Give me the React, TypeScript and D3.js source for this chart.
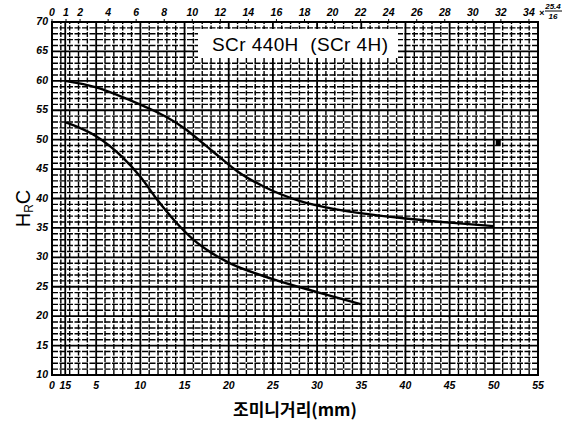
import * as d3 from 'd3';

// jominy distance (mm) vs hardness (HRC)
const upperX = [1.5, 5, 9, 11, 13, 15, 17, 19, 21, 24, 28, 32, 36, 40, 45, 50];
const upperY = [60, 58.9, 56.6, 55.3, 53.8, 51.9, 49.5, 47, 44.6, 42, 39.6, 38.2, 37.3, 36.6, 35.9, 35.3];
const lowerX = [1.5, 5, 8, 10, 12, 14, 16, 18, 20, 25, 30, 35];
const lowerY = [53, 50.6, 47, 43.7, 39.6, 36, 33, 30.8, 29.1, 26.3, 24.1, 22];

const bottomTicks = [0, 1.5, 5, 10, 15, 20, 25, 30, 35, 40, 45, 50, 55];
const bottomTickLabels = ['0', '15', '5', '10', '15', '20', '25', '30', '35', '40', '45', '50', '55'];
const topTicks = [0, 1, 2, 4, 6, 8, 10, 12, 14, 16, 18, 20, 22, 24, 26, 28, 30, 32, 34]; // 1/16 inch
const yTicks = [10, 15, 20, 25, 30, 35, 40, 45, 50, 55, 60, 65, 70];

const title = 'SCr 440H  (SCr 4H)';
const xTitle = '조미니거리(mm)';

const W = 580;
const H = 427;
const m = { left: 52, right: 42, top: 22, bottom: 52 };
const SIXTEENTH = 25.4 / 16;

export default function App() {
  const x = d3.scaleLinear().domain([0, 55]).range([m.left, W - m.right]);
  const y = d3.scaleLinear().domain([10, 70]).range([H - m.bottom, m.top]);

  const mkPath = (xs: number[], ys: number[]) =>
    d3
      .line<number>()
      .x((_, i) => x(xs[i]))
      .y((_, i) => y(ys[i]))
      .curve(d3.curveMonotoneX)(xs) || '';

  const vLines = d3.range(0, 56, 1);
  const hLines = d3.range(10, 71, 1);
  const tickFont = { fontFamily: 'Liberation Sans, sans-serif', fontStyle: 'italic', fontWeight: 700, fontSize: 10.5 };

  return (
    <svg width={W} height={H} style={{ position: 'absolute', left: 0, top: 0, background: '#fff' }}>
      {/* grid */}
      <g stroke="#000">
        {hLines.map((v) => (
          <line
            key={'h' + v}
            x1={x(0)}
            x2={x(55)}
            y1={y(v)}
            y2={y(v)}
            strokeWidth={v % 5 === 0 ? 1.8 : 1.4}
            strokeDasharray={v % 5 === 0 ? undefined : '6 1.5'}
          />
        ))}
        {vLines.map((v) => (
          <line
            key={'v' + v}
            x1={x(v)}
            x2={x(v)}
            y1={y(10)}
            y2={y(70)}
            strokeWidth={v % 5 === 0 ? 1.8 : 1.4}
            strokeDasharray={v % 5 === 0 ? undefined : '5 1.5'}
          />
        ))}
        <line x1={x(1.5)} x2={x(1.5)} y1={y(10)} y2={y(70)} strokeWidth={1.8} />
        <rect x={x(0)} y={y(70)} width={x(55) - x(0)} height={y(10) - y(70)} fill="none" strokeWidth={2} />
        {topTicks.map((t) => (
          <line key={'tt' + t} x1={x(t * SIXTEENTH)} x2={x(t * SIXTEENTH)} y1={y(70) - 3} y2={y(70)} strokeWidth={1} />
        ))}
      </g>

      {/* title box */}
      <rect x={198} y={29} width={200} height={29} fill="#fff" />
      <text
        x={300}
        y={51}
        textAnchor="middle"
        style={{ fontFamily: 'Liberation Sans, sans-serif', fontSize: 19, whiteSpace: 'pre' }}
        textLength={176}
      >
        {title}
      </text>

      {/* curves */}
      <path d={mkPath(upperX, upperY)} fill="none" stroke="#000" strokeWidth={2.4} />
      <path d={mkPath(lowerX, lowerY)} fill="none" stroke="#000" strokeWidth={2.4} />
      <rect x={x(50.5) - 2.5} y={y(49.5) - 3} width={5} height={6} fill="#000" />

      {/* y labels */}
      {yTicks.map((t) => (
        <text key={'yl' + t} x={x(0) - 4} y={y(t) + 3} textAnchor="end" style={tickFont}>
          {t}
        </text>
      ))}
      {/* bottom labels */}
      {bottomTicks.map((t, i) => (
        <text key={'bl' + t} x={x(t)} y={y(10) + 14} textAnchor="middle" style={tickFont}>
          {bottomTickLabels[i]}
        </text>
      ))}
      {/* top labels (1/16 inch) */}
      {topTicks.map((t) => (
        <text key={'tl' + t} x={x(t * SIXTEENTH)} y={y(70) - 6} textAnchor="middle" style={tickFont}>
          {t}
        </text>
      ))}
      <text x={x(34 * SIXTEENTH) + 10} y={y(70) - 6} style={{ ...tickFont, fontSize: 9 }}>
        ×
      </text>
      <text x={553} y={9} textAnchor="middle" style={{ ...tickFont, fontSize: 8 }}>
        25.4
      </text>
      <line x1={545} x2={562} y1={11} y2={11} stroke="#000" strokeWidth={1} />
      <text x={553} y={19} textAnchor="middle" style={{ ...tickFont, fontSize: 8 }}>
        16
      </text>

      {/* axis titles */}
      <text
        transform={`translate(30,${(y(10) + y(70)) / 2 + 10}) rotate(-90)`}
        textAnchor="middle"
        style={{ fontFamily: 'Liberation Sans, sans-serif', fontSize: 20 }}
      >
        H<tspan fontSize={12} dy={3}>R</tspan>
        <tspan dy={-3}>C</tspan>
      </text>
      <text
        x={(x(0) + x(55)) / 2}
        y={416}
        textAnchor="middle"
        style={{ fontFamily: 'Noto Sans CJK KR, sans-serif', fontSize: 17, fontWeight: 700 }}
      >
        {xTitle}
      </text>
    </svg>
  );
}
